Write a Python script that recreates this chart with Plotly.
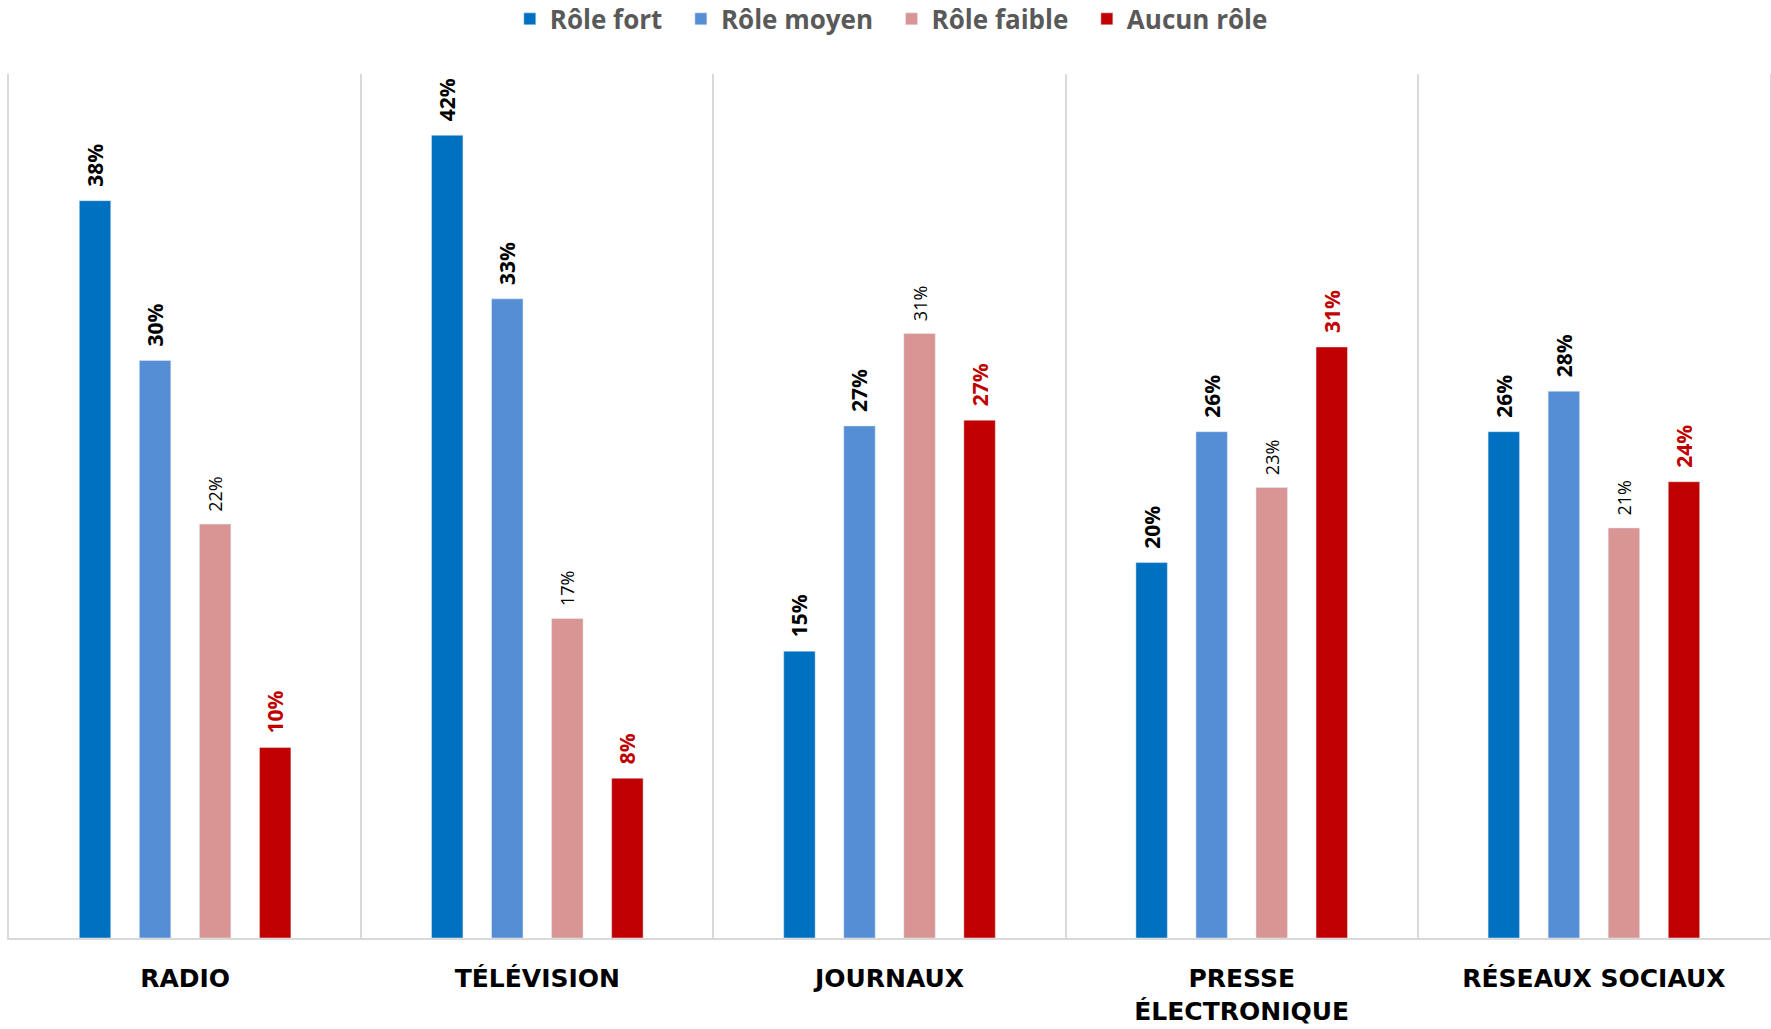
import plotly.graph_objects as go

categories = ["RADIO", "TÉLÉVISION", "JOURNAUX", "PRESSE<br>ÉLECTRONIQUE", "RÉSEAUX SOCIAUX"]

role_fort = [0.383, 0.417, 0.149, 0.195, 0.263]
role_moyen = [0.300, 0.332, 0.266, 0.263, 0.284]
role_faible = [0.215, 0.166, 0.314, 0.234, 0.213]
aucun_role = [0.099, 0.083, 0.269, 0.307, 0.237]

series = [
    ("Rôle fort", role_fort, "#0070C0", "#000000", 700, 21),
    ("Rôle moyen", role_moyen, "#558ED5", "#000000", 700, 21),
    ("Rôle faible", role_faible, "#D99594", "#000000", 400, 18),
    ("Aucun rôle", aucun_role, "#C00000", "#C00000", 700, 21),
]

fig = go.Figure()
for name, vals, color, txtcolor, weight, size in series:
    fig.add_trace(go.Bar(
        x=categories,
        y=vals,
        name=name + "\u00a0\u00a0",
        marker_color=color,
        text=["\u00a0\u00a0" + f"{v:.0%}" for v in vals],
        textposition="outside",
        textangle=-90,
        constraintext="none",
        cliponaxis=False,
        textfont=dict(family="Open Sans", size=size, color=txtcolor, weight=weight),
    ))

fig.update_layout(
    width=1771,
    height=1029,
    barmode="group",
    bargap=0.318,
    bargroupgap=0.476,
    plot_bgcolor="white",
    paper_bgcolor="white",
    margin=dict(l=9, r=1, t=74, b=91, autoexpand=False),
    legend=dict(
        orientation="h",
        x=0.505, xanchor="center",
        y=1.0637, yanchor="middle",
        font=dict(family="Open Sans", size=26, color="#595959", weight=700),
        itemwidth=30,
        traceorder="normal",
    ),
    xaxis=dict(
        type="category",
        tickson="boundaries",
        showgrid=True,
        gridcolor="#d9d9d9",
        gridwidth=1.5,
        ticks="",
        showline=True,
        linecolor="#d9d9d9",
        linewidth=2,
        automargin=False,
        ticklabelstandoff=17,
        tickfont=dict(family="DejaVu Sans", size=25, color="#000000", weight=700),
    ),
    yaxis=dict(
        range=[0, 0.4488],
        showgrid=False,
        zeroline=False,
        showticklabels=False,
        ticks="",
        showline=True,
        linecolor="#d9d9d9",
        linewidth=1.5,
        mirror=True,
        automargin=False,
    ),
)

# page body has a default 8px margin; drop it so the figure fills the window
fig.write_html(
    "out.html",
    config={"displayModeBar": False},
    post_script="document.body.style.margin='0';document.body.style.overflow='hidden';",
)
